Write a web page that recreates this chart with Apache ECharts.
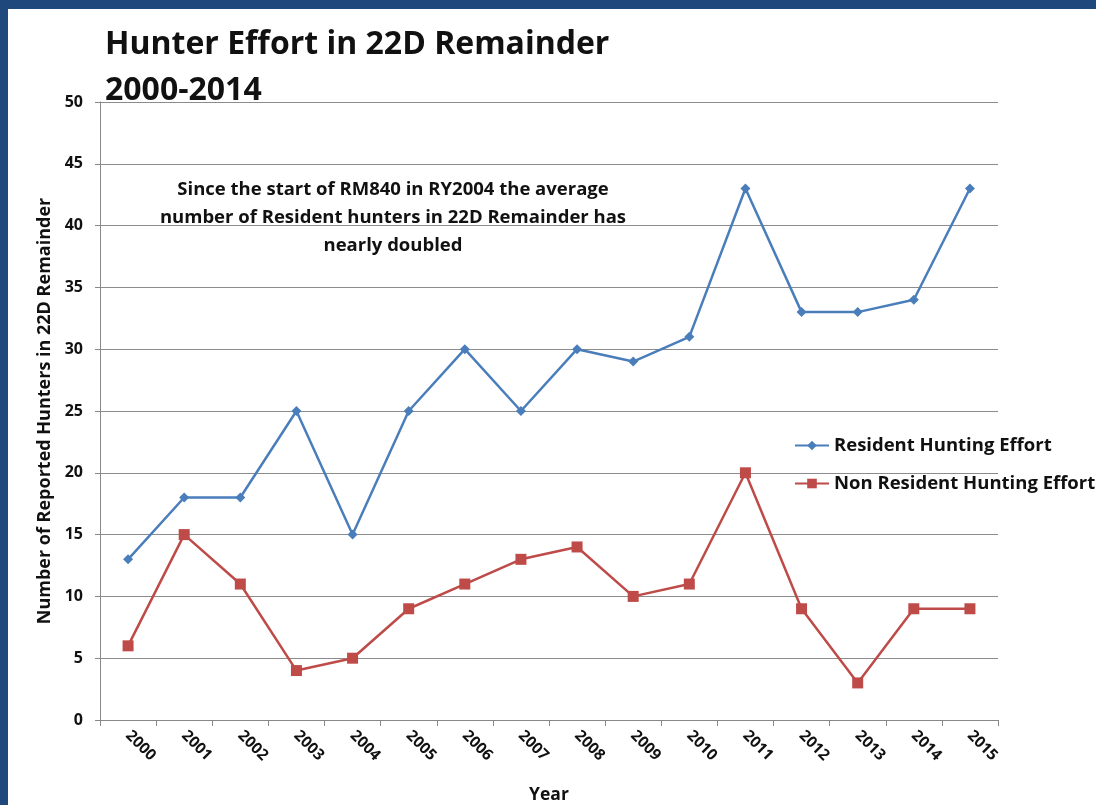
<!DOCTYPE html>
<html>
<head>
<meta charset="utf-8">
<script src="https://cdn.jsdelivr.net/npm/echarts@6/dist/echarts.min.js"></script>
<style>
  html, body { margin: 0; padding: 0; background: #1f497d; }
  #wrap { position: absolute; left: 0; top: 0; width: 1096px; height: 805px; background: #1f497d; }
  #main { position: absolute; left: 8px; top: 9px; width: 1088px; height: 796px; background: #ffffff; }
</style>
</head>
<body>
<div id="wrap"><div id="main"></div></div>
<script>
var chartDom = document.getElementById('main');
var myChart = echarts.init(chartDom);
var option;

const years = ['2000', '2001', '2002', '2003', '2004', '2005', '2006', '2007',
               '2008', '2009', '2010', '2011', '2012', '2013', '2014', '2015'];
const residentEffort = [13, 18, 18, 25, 15, 25, 30, 25, 30, 29, 31, 43, 33, 33, 34, 43];
const nonResidentEffort = [6, 15, 11, 4, 5, 9, 11, 13, 14, 10, 11, 20, 9, 3, 9, 9];
const noteText = 'Since the start of RM840 in RY2004 the average\nnumber of Resident hunters in 22D Remainder has\nnearly doubled';

const FONT = 'Open Sans';
const blue = '#4a7ebb';
const red = '#be4b48';

option = {
  backgroundColor: '#ffffff',
  textStyle: { fontFamily: FONT },
  title: {
    text: 'Hunter Effort in 22D Remainder\n2000-2014',
    left: 92,
    top: 8,
    textStyle: {
      fontFamily: FONT,
      fontSize: 32,
      fontWeight: 'bold',
      color: '#111',
      lineHeight: 46
    }
  },
  legend: {
    orient: 'vertical',
    left: 781,
    top: 422,
    itemGap: 19,
    itemWidth: 34,
    itemHeight: 12,
    textStyle: { fontFamily: FONT, fontSize: 18.5, fontWeight: 'bold', color: '#111' },
    data: ['Resident Hunting Effort', 'Non Resident Hunting Effort']
  },
  graphic: [
    {
      type: 'text',
      x: 385,
      y: 167,
      style: {
        text: noteText,
        fill: '#111',
        font: 'bold 18.5px "Open Sans"',
        align: 'center',
        verticalAlign: 'top',
        lineHeight: 28
      }
    }
  ],
  grid: {
    left: 92,
    right: 98,
    top: 93,
    bottom: 85,
    outerBoundsMode: 'none',
    containLabel: false
  },
  xAxis: {
    type: 'category',
    data: years,
    boundaryGap: true,
    name: 'Year',
    nameLocation: 'middle',
    nameGap: 66,
    nameTextStyle: { fontFamily: FONT, fontSize: 17.5, fontWeight: 'bold', color: '#111' },
    axisLine: { lineStyle: { color: '#888', width: 1 } },
    axisTick: { show: true, length: 6, lineStyle: { color: '#888' } },
    axisLabel: {
      rotate: -45,
      interval: 0,
      fontFamily: FONT,
      fontSize: 15.5,
      fontWeight: 'bold',
      color: '#111',
      margin: 13
    }
  },
  yAxis: {
    type: 'value',
    min: 0,
    max: 50,
    interval: 5,
    name: 'Number of Reported Hunters in 22D Remainder',
    nameLocation: 'middle',
    nameGap: 45,
    nameTextStyle: { fontFamily: FONT, fontSize: 18, fontWeight: 'bold', color: '#111' },
    axisLine: { show: true, lineStyle: { color: '#888', width: 1 } },
    axisTick: { show: true, length: 5, lineStyle: { color: '#888' } },
    splitLine: { show: true, lineStyle: { color: '#8c8c8c', width: 1 } },
    axisLabel: {
      fontFamily: FONT,
      fontSize: 16,
      fontWeight: 'bold',
      color: '#111',
      margin: 17
    }
  },
  series: [
    {
      name: 'Resident Hunting Effort',
      type: 'line',
      data: residentEffort,
      symbol: 'diamond',
      symbolSize: 10,
      color: blue,
      lineStyle: { color: blue, width: 2.5 },
      itemStyle: { color: blue }
    },
    {
      name: 'Non Resident Hunting Effort',
      type: 'line',
      data: nonResidentEffort,
      symbol: 'rect',
      symbolSize: 11,
      color: red,
      lineStyle: { color: red, width: 2.5 },
      itemStyle: { color: red }
    }
  ]
};

option && myChart.setOption(option);
</script>
</body>
</html>
